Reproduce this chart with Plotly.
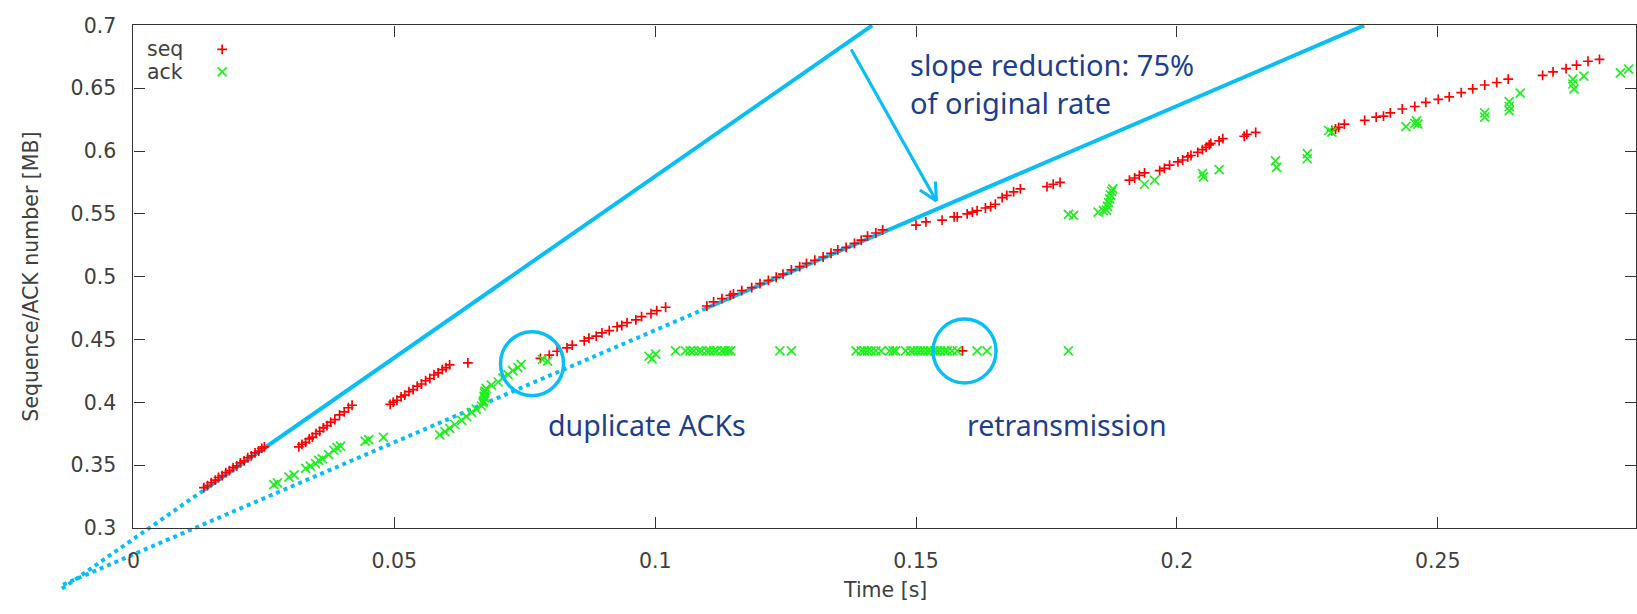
import plotly.graph_objects as go

# ---------------------------------------------------------------- geometry
W, H = 1637, 614
PLOT_L, PLOT_R, PLOT_T, PLOT_B = 127, 1636, 14, 537

X_RANGE = [0.0, 0.288]
Y_RANGE = [0.3, 0.7]
X_TICKS = [0, 0.05, 0.1, 0.15, 0.2, 0.25]
X_TICK_TEXT = ["0", "0.05", "0.1", "0.15", "0.2", "0.25"]
Y_TICKS = [0.3, 0.35, 0.4, 0.45, 0.5, 0.55, 0.6, 0.65, 0.7]
Y_TICK_TEXT = ["0.3", "0.35", "0.4", "0.45", "0.5", "0.55", "0.6", "0.65", "0.7"]

# ---------------------------------------------------------------- data
# sent segments: time [s], sequence number [MB]
seq_t = [
    0.0135, 0.0142, 0.0149, 0.0157, 0.0163, 0.0170, 0.0177, 0.0184, 0.0191,
    0.0198, 0.0205, 0.0212, 0.0219, 0.0226, 0.0233, 0.0240, 0.0246, 0.0251,
    0.0317, 0.0323, 0.0330, 0.0337, 0.0343, 0.0350, 0.0357, 0.0364, 0.0371,
    0.0378, 0.0386, 0.0395, 0.0404, 0.0412, 0.0419,
    0.0492, 0.0498, 0.0505, 0.0513, 0.0520, 0.0528, 0.0536, 0.0544, 0.0552,
    0.0560, 0.0568, 0.0576, 0.0584, 0.0592, 0.0599, 0.0606, 0.0641,
    0.0780, 0.0797, 0.0812, 0.0831, 0.0841, 0.0864, 0.0873, 0.0887, 0.0898,
    0.0912, 0.0927, 0.0936, 0.0946, 0.0963, 0.0974, 0.0992, 0.1003, 0.1020,
    0.1099, 0.1112, 0.1128, 0.1144, 0.1150, 0.1166, 0.1185, 0.1201, 0.1217,
    0.1232, 0.1245, 0.1261, 0.1277, 0.1290, 0.1306, 0.1322, 0.1337, 0.1350,
    0.1366, 0.1382, 0.1395, 0.1407, 0.1423, 0.1436,
    0.1500, 0.1519, 0.1550, 0.1573, 0.1579, 0.1598, 0.1608, 0.1617, 0.1633,
    0.1643, 0.1652, 0.1665, 0.1674, 0.1687, 0.1700, 0.1751, 0.1763, 0.1776,
    0.1909, 0.1919, 0.1928, 0.1938,
    0.1967, 0.1976, 0.1986, 0.2002, 0.2011, 0.2021, 0.2027, 0.2040, 0.2049,
    0.2056, 0.2062, 0.2065, 0.2081, 0.2088, 0.2129, 0.2134, 0.2151,
    0.2297, 0.2304, 0.2310, 0.2321, 0.2360, 0.2382, 0.2396, 0.2409, 0.2432,
    0.2456, 0.2477, 0.2501, 0.2522, 0.2545, 0.2567, 0.2590, 0.2613, 0.2635,
    0.2701, 0.2721, 0.2746, 0.2766, 0.2788, 0.2810,
    0.1589,
]
seq_mb = [
    0.3321, 0.3338, 0.3362, 0.3381, 0.3402, 0.3417, 0.3441, 0.3456, 0.3480,
    0.3495, 0.3519, 0.3535, 0.3559, 0.3574, 0.3598, 0.3613, 0.3634, 0.3646,
    0.3645, 0.3665, 0.3682, 0.3709, 0.3724, 0.3751, 0.3770, 0.3797, 0.3815,
    0.3842, 0.3863, 0.3901, 0.3925, 0.3957, 0.3977,
    0.3984, 0.4002, 0.4017, 0.4043, 0.4058, 0.4085, 0.4101, 0.4129, 0.4146,
    0.4172, 0.4190, 0.4218, 0.4235, 0.4261, 0.4276, 0.4298, 0.4315,
    0.4350, 0.4376, 0.4407, 0.4433, 0.4456, 0.4489, 0.4511, 0.4528, 0.4553,
    0.4571, 0.4602, 0.4612, 0.4635, 0.4657, 0.4682, 0.4707, 0.4731, 0.4757,
    0.4767, 0.4800, 0.4826, 0.4851, 0.4864, 0.4889, 0.4914, 0.4945, 0.4971,
    0.4996, 0.5021, 0.5055, 0.5080, 0.5106, 0.5131, 0.5157, 0.5187, 0.5213,
    0.5233, 0.5266, 0.5292, 0.5323, 0.5348, 0.5373,
    0.5411, 0.5437, 0.5450, 0.5476, 0.5476, 0.5501, 0.5514, 0.5526, 0.5547,
    0.5557, 0.5577, 0.5629, 0.5648, 0.5675, 0.5700, 0.5717, 0.5736, 0.5751,
    0.5769, 0.5786, 0.5807, 0.5827,
    0.5845, 0.5863, 0.5889, 0.5914, 0.5929, 0.5954, 0.5965, 0.5990, 0.6011,
    0.6029, 0.6049, 0.6062, 0.6082, 0.6100, 0.6118, 0.6133, 0.6149,
    0.6164, 0.6176, 0.6189, 0.6214, 0.6245, 0.6271, 0.6279, 0.6304, 0.6335,
    0.6355, 0.6388, 0.6411, 0.6432, 0.6465, 0.6495, 0.6526, 0.6546, 0.6572,
    0.6602, 0.6630, 0.6656, 0.6684, 0.6715, 0.6730,
    0.4410,
]

# acknowledgements: time [s], ACK number [MB]
ack_t = [
    0.0269, 0.0276, 0.0298, 0.0308, 0.0330, 0.0339, 0.0349, 0.0355, 0.0362,
    0.0374, 0.0384, 0.0390, 0.0397, 0.0444, 0.0451, 0.0479,
    0.0587, 0.0597, 0.0606, 0.0616, 0.0629, 0.0638, 0.0648, 0.0657, 0.0667,
    0.0670, 0.0671, 0.0672, 0.0673, 0.0674, 0.0673, 0.0676, 0.0686, 0.0699,
    0.0708, 0.0718, 0.0727, 0.0737, 0.0743,
    0.0784, 0.0794, 0.0988, 0.0994, 0.1001,
    0.1039, 0.1058, 0.1067, 0.1074, 0.1083, 0.1089, 0.1099, 0.1105, 0.1112,
    0.1118, 0.1128, 0.1134, 0.1140, 0.1145, 0.1239, 0.1261,
    0.1385, 0.1395, 0.1401, 0.1407, 0.1414, 0.1423, 0.1433, 0.1449, 0.1456,
    0.1461, 0.1480, 0.1490, 0.1496, 0.1503, 0.1509, 0.1515, 0.1522, 0.1528,
    0.1535, 0.1541, 0.1547, 0.1554, 0.1560, 0.1569, 0.1579, 0.1617, 0.1636,
    0.1792,
    0.1792, 0.1802, 0.1849, 0.1859, 0.1865, 0.1867, 0.1869, 0.1871, 0.1873,
    0.1875, 0.1877, 0.1938, 0.1957,
    0.2049, 0.2051, 0.2081, 0.2189, 0.2191, 0.2250, 0.2250, 0.2291, 0.2297,
    0.2439, 0.2456, 0.2459, 0.2462, 0.2590, 0.2590, 0.2637, 0.2637, 0.2637,
    0.2658, 0.2759, 0.2759, 0.2761, 0.2780, 0.2850, 0.2866,
]
ack_mb = [
    0.3346, 0.3359, 0.3405, 0.3423, 0.3474, 0.3492, 0.3512, 0.3538, 0.3551,
    0.3584, 0.3619, 0.3640, 0.3652, 0.3691, 0.3704, 0.3721,
    0.3742, 0.3767, 0.3793, 0.3824, 0.3857, 0.3889, 0.3920, 0.3946, 0.3971,
    0.3997, 0.4010, 0.4050, 0.4035, 0.4090, 0.4073, 0.4111, 0.4137, 0.4162,
    0.4195, 0.4221, 0.4252, 0.4277, 0.4302,
    0.4341, 0.4328, 0.4367, 0.4346, 0.4384,
    0.4410, 0.4410, 0.4410, 0.4410, 0.4410, 0.4410, 0.4410, 0.4410, 0.4410,
    0.4410, 0.4410, 0.4410, 0.4410, 0.4410, 0.4410, 0.4410,
    0.4410, 0.4410, 0.4410, 0.4410, 0.4410, 0.4410, 0.4410, 0.4410, 0.4410,
    0.4410, 0.4410, 0.4410, 0.4410, 0.4410, 0.4410, 0.4410, 0.4410, 0.4410,
    0.4410, 0.4410, 0.4410, 0.4410, 0.4410, 0.4410, 0.4410, 0.4410, 0.4410,
    0.4410,
    0.5496, 0.5488, 0.5514, 0.5526, 0.5530, 0.5560, 0.5590, 0.5620, 0.5650,
    0.5680, 0.5700, 0.5736, 0.5769,
    0.5820, 0.5794, 0.5853, 0.5922, 0.5870, 0.5980, 0.5939, 0.6164, 0.6151,
    0.6195, 0.6220, 0.6240, 0.6214, 0.6304, 0.6271, 0.6393, 0.6355, 0.6322,
    0.6462, 0.6572, 0.6534, 0.6495, 0.6597, 0.6622, 0.6653,
]

# rate guide lines (time [s], MB): dotted extrapolation + solid fit
fast_dot_t, fast_dot_mb = [-0.0137, 0.0135], [0.2517, 0.3302]
fast_fit_t, fast_fit_mb = [0.0135, 0.1416], [0.3302, 0.7000]
slow_dot_t, slow_dot_mb = [-0.0135, 0.1090], [0.2549, 0.4735]
slow_fit_t, slow_fit_mb = [0.1090, 0.2359], [0.4735, 0.7000]

# highlighted events (time [s], MB)
dup_ack_at = (0.0764, 0.4308)
retrans_at = (0.1593, 0.4409)
arrow_tip = (0.1539, 0.5603)

# ---------------------------------------------------------------- styling
RED = "#ff0000"
GREEN = "#1fef1f"
CYAN = "#08bef2"
NAVY = "#1d3f8c"
AXIS = "#333333"
LABEL = "#404040"
GP_FONT = "DejaVu Sans"
NOTE_FONT = "Noto Sans"


def px(x):
    return x / W


def py(y):
    return 1 - y / H


# the main frame occupies a sub-rectangle of the page; the guide lines
# live on a page-wide pair of axes sharing the same data scale so that
# they may run past the frame
kx = (PLOT_R - PLOT_L) / (X_RANGE[1] - X_RANGE[0])
ky = (PLOT_B - PLOT_T) / (Y_RANGE[1] - Y_RANGE[0])
full_x = [X_RANGE[0] - PLOT_L / kx, X_RANGE[1] + (W - PLOT_R) / kx]
full_y = [Y_RANGE[0] - (H - PLOT_B) / ky, Y_RANGE[1] + PLOT_T / ky]

fig = go.Figure()

for t, mb, dash in [
    (fast_dot_t, fast_dot_mb, "dot"),
    (slow_dot_t, slow_dot_mb, "dot"),
    (fast_fit_t, fast_fit_mb, "solid"),
    (slow_fit_t, slow_fit_mb, "solid"),
]:
    fig.add_trace(go.Scatter(
        x=t, y=mb, mode="lines", xaxis="x", yaxis="y",
        line=dict(color=CYAN, width=4, dash=dash),
        showlegend=False, hoverinfo="skip",
    ))

fig.add_trace(go.Scatter(
    x=seq_t, y=seq_mb, mode="markers", name="", xaxis="x2", yaxis="y2",
    marker=dict(symbol="cross-thin", size=7.0, color=RED,
                line=dict(color=RED, width=1.7)),
    hovertemplate="seq<br>%{x:.4f} s, %{y:.4f} MB<extra></extra>",
))
fig.add_trace(go.Scatter(
    x=ack_t, y=ack_mb, mode="markers", name="", xaxis="x2", yaxis="y2",
    marker=dict(symbol="x-thin", size=9.0, color=GREEN,
                line=dict(color=GREEN, width=1.7)),
    hovertemplate="ack<br>%{x:.4f} s, %{y:.4f} MB<extra></extra>",
))

axis_common = dict(
    showgrid=False, zeroline=False, showline=True, linecolor=AXIS,
    linewidth=1.2, mirror="ticks", ticks="inside", ticklen=11,
    tickwidth=1.2, tickcolor=AXIS,
    tickfont=dict(family=GP_FONT, size=20.5, color=LABEL),
)

fig.update_layout(
    width=W, height=H,
    margin=dict(l=0, r=0, t=0, b=0),
    paper_bgcolor="white", plot_bgcolor="rgba(0,0,0,0)",
    xaxis=dict(domain=[0, 1], range=full_x, visible=False, anchor="y"),
    yaxis=dict(domain=[0, 1], range=full_y, visible=False, anchor="x"),
    xaxis2=dict(domain=[px(PLOT_L), px(PLOT_R)], range=X_RANGE,
                anchor="y2", tickvals=X_TICKS, ticktext=X_TICK_TEXT,
                ticklabelstandoff=14, **axis_common),
    yaxis2=dict(domain=[py(PLOT_B), py(PLOT_T)], range=Y_RANGE,
                anchor="x2", tickvals=Y_TICKS, ticktext=Y_TICK_TEXT,
                ticklabelstandoff=12, **axis_common),
    showlegend=True,
    legend=dict(x=px(196), y=py(22), xanchor="left", yanchor="top",
                bgcolor="rgba(0,0,0,0)", font=dict(family=GP_FONT, size=15),
                itemwidth=30, tracegroupgap=0),
)

# event circles, fixed pixel radius around a data point
for cx, cy in (dup_ack_at, retrans_at):
    fig.add_shape(type="circle", xref="x2", yref="y2",
                  xsizemode="pixel", ysizemode="pixel",
                  xanchor=cx, yanchor=cy, x0=-31.5, x1=31.5, y0=-32, y1=32,
                  line=dict(color=CYAN, width=3.5))

annotations = []
# arrow pointing at the reduced slope: shaft plus two open barbs
for ax, ay in [(-86, -153), (-18, -12), (-1, -21)]:
    annotations.append(dict(
        x=arrow_tip[0], y=arrow_tip[1], xref="x2", yref="y2", text="",
        showarrow=True, arrowhead=0, arrowwidth=3.2, arrowcolor=CYAN,
        ax=ax, ay=ay, standoff=0,
    ))

notes = [
    ("slope reduction: 75%<br>of original rate", 905, 74.5, 29),
    ("duplicate ACKs", 541, 430, 28.5),
    ("retransmission", 962, 430, 28.5),
]
for text, x0, yc, size in notes:
    annotations.append(dict(
        x=px(x0), y=py(yc), xref="paper", yref="paper", text=text,
        showarrow=False, xanchor="left", yanchor="middle", align="left",
        font=dict(family=NOTE_FONT, size=size, color=NAVY),
    ))

for text, yc in [("seq", 38), ("ack", 62)]:
    annotations.append(dict(
        x=px(179), y=py(yc), xref="paper", yref="paper", text=text,
        showarrow=False, xanchor="right", yanchor="middle",
        font=dict(family=GP_FONT, size=20.5, color=LABEL),
    ))

annotations.append(dict(
    x=px((PLOT_L + PLOT_R) / 2), y=py(601), xref="paper", yref="paper",
    text="Time [s]", showarrow=False, xanchor="center", yanchor="middle",
    font=dict(family=GP_FONT, size=20.5, color=LABEL),
))
annotations.append(dict(
    x=px(24), y=py((PLOT_T + PLOT_B) / 2), xref="paper", yref="paper",
    text="Sequence/ACK number [MB]", showarrow=False, textangle=-90,
    xanchor="center", yanchor="middle",
    font=dict(family=GP_FONT, size=20.5, color=LABEL),
))

fig.update_layout(annotations=annotations)

fig.write_html("out.html")
